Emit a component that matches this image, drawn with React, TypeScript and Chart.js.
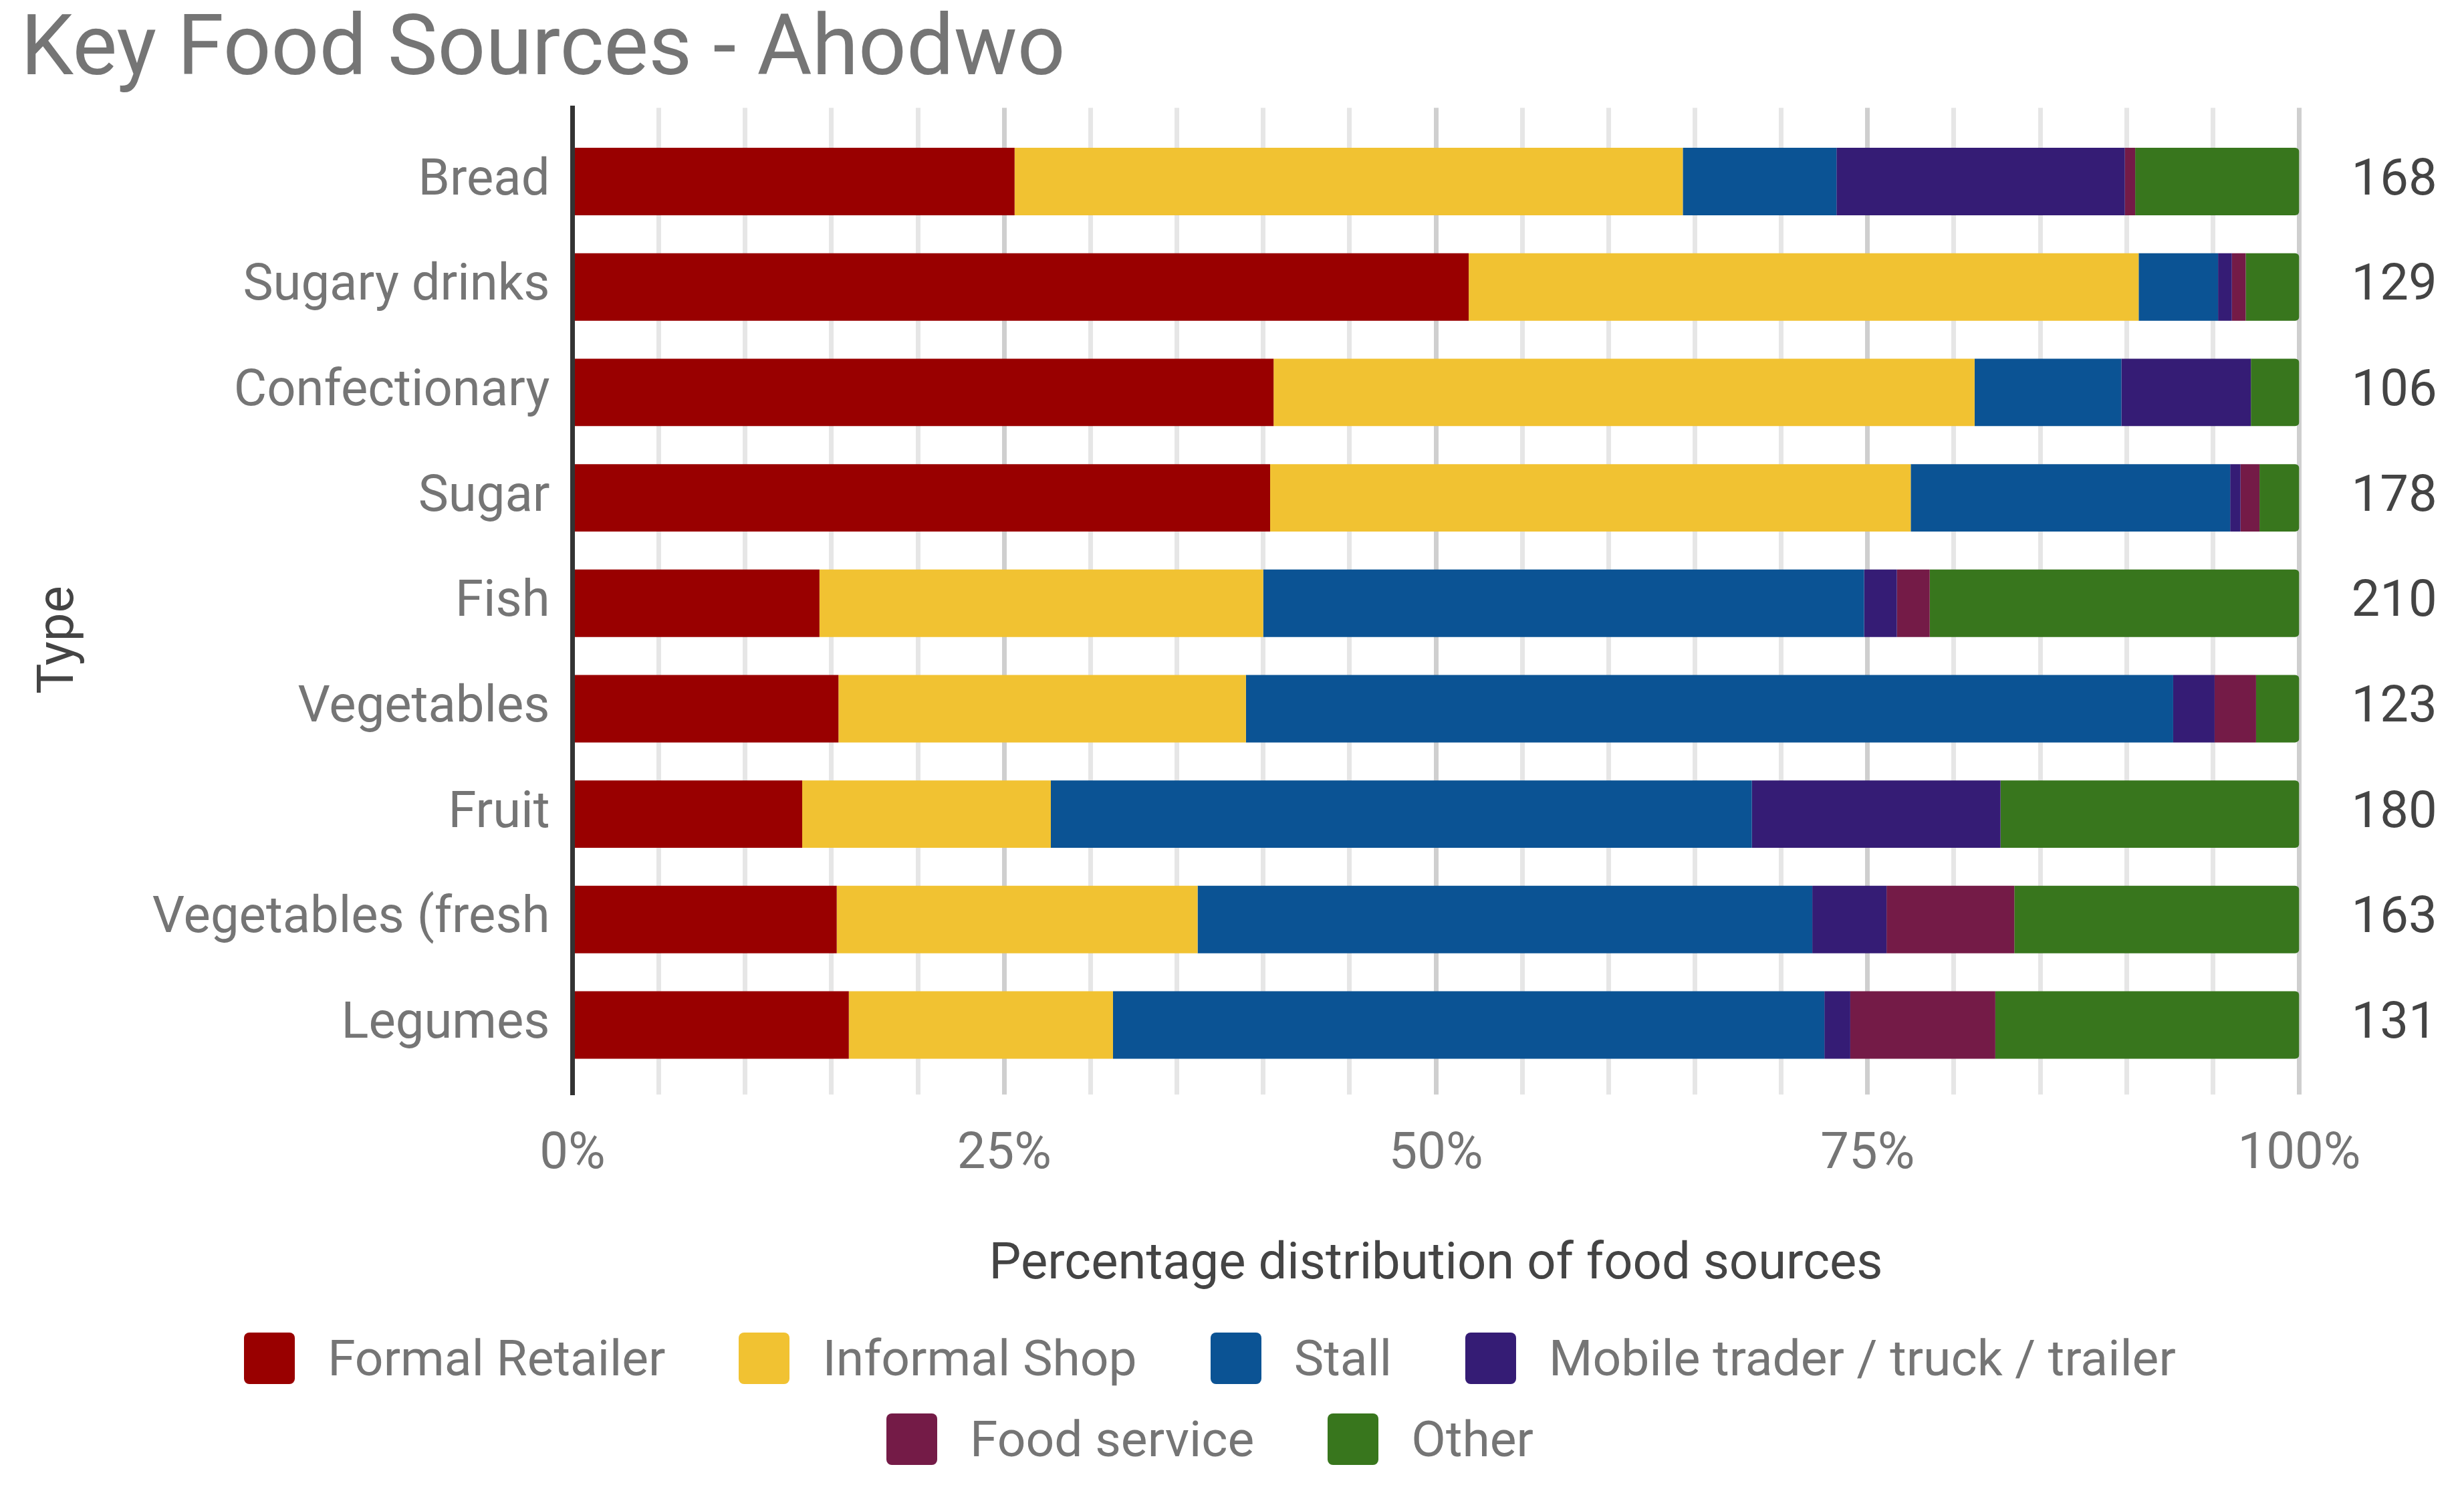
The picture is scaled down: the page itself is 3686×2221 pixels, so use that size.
import React, { useEffect, useRef } from "react";
import { Chart, registerables } from "chart.js";

Chart.register(...registerables);

const categories = [
  "Bread",
  "Sugary drinks",
  "Confectionary",
  "Sugar",
  "Fish",
  "Vegetables",
  "Fruit",
  "Vegetables (fresh",
  "Legumes",
];

const sampleSizes = ["168", "129", "106", "178", "210", "123", "180", "163", "131"];

const seriesNames = [
  "Formal Retailer",
  "Informal Shop",
  "Stall",
  "Mobile trader / truck / trailer",
  "Food service",
  "Other",
];

const seriesColors = ["#990000", "#f1c232", "#0b5394", "#351c75", "#741b47", "#38761d"];

const formalRetailer = [25.6, 51.9, 40.6, 40.4, 14.3, 15.4, 13.3, 15.3, 16.0];
const informalShop = [38.7, 38.8, 40.6, 37.1, 25.7, 23.6, 14.4, 20.9, 15.3];
const stall = [8.9, 4.6, 8.5, 18.5, 34.8, 53.7, 40.6, 35.6, 41.2];
const mobileTrader = [16.7, 0.8, 7.5, 0.6, 1.9, 2.4, 14.4, 4.3, 1.5];
const foodService = [0.6, 0.8, 0.0, 1.1, 1.9, 2.4, 0.0, 7.4, 8.4];
const other = [9.5, 3.1, 2.8, 2.3, 21.4, 2.5, 17.3, 16.5, 17.6];

const seriesValues = [formalRetailer, informalShop, stall, mobileTrader, foodService, other];

const xTickValues = [0, 25, 50, 75, 100];

const FONT = "Roboto";
const GREY = "#757575";
const DARK = "#444444";

const typeTitlePlugin = {
  id: "typeTitle",
  afterDraw(chart: any) {
    const ctx = chart.ctx;
    ctx.save();
    ctx.font = `76px ${FONT}`;
    ctx.fillStyle = DARK;
    ctx.textAlign = "center";
    ctx.textBaseline = "alphabetic";
    ctx.translate(109, 957);
    ctx.rotate(-Math.PI / 2);
    ctx.fillText("Type", 0, 0);
    ctx.restore();
  },
};

export default function App() {
  const canvasRef = useRef<HTMLCanvasElement | null>(null);

  useEffect(() => {
    if (!canvasRef.current) return;
    const indexTicks = (axis: any) => {
      axis.ticks = categories.map((_, i) => ({ value: i }));
    };
    const chart = new Chart(canvasRef.current, {
      type: "bar",
      data: {
        datasets: seriesNames.map((name, s) => ({
          label: name,
          data: categories.map((_, i) => ({ x: seriesValues[s][i], y: i })),
          backgroundColor: seriesColors[s],
          borderWidth: 0,
          borderRadius: 6,
          barPercentage: 0.64,
          categoryPercentage: 1,
          xAxisID: "x",
          yAxisID: "y",
        })),
      },
      plugins: [typeTitlePlugin],
      options: {
        indexAxis: "y",
        animation: false,
        responsive: false,
        devicePixelRatio: 1,
        layout: { padding: { top: 4, left: 31, right: 0, bottom: 0 } },
        plugins: {
          legend: { display: false },
          tooltip: { enabled: false },
          title: {
            display: true,
            text: "Key Food Sources - Ahodwo",
            align: "start",
            color: GREY,
            font: { family: FONT, size: 126, weight: "normal", lineHeight: 1.2 },
            padding: { top: 0, bottom: 6 },
          },
        },
        scales: {
          x: {
            type: "linear",
            position: "bottom",
            min: 0,
            max: 100,
            stacked: true,
            offset: false,
            ticks: {
              stepSize: 5,
              autoSkip: false,
              maxRotation: 0,
              padding: 45,
              color: GREY,
              font: { family: FONT, size: 76 },
              callback: (v: any) => (xTickValues.includes(Number(v)) ? `${v}%` : ""),
            },
            grid: {
              offset: false,
              drawTicks: false,
              lineWidth: 7,
              color: (ctx: any) =>
                ctx.tick && xTickValues.includes(ctx.tick.value) ? "#cfcfcf" : "#e6e6e6",
            },
            border: { display: false },
            title: {
              display: true,
              text: "Percentage distribution of food sources",
              color: DARK,
              font: { family: FONT, size: 76 },
              padding: { top: 0, bottom: 282 },
            },
            afterFit: (s: any) => {
              s.height = 584;
            },
          },
          y: {
            type: "linear",
            position: "left",
            min: -0.7,
            max: 8.66,
            reverse: true,
            stacked: true,
            offset: false,
            afterBuildTicks: indexTicks,
            ticks: {
              autoSkip: false,
              padding: 34,
              color: GREY,
              font: { family: FONT, size: 76 },
              callback: (v: any) => categories[v] ?? "",
            },
            grid: { display: true, offset: false, drawOnChartArea: false, drawTicks: false },
            border: { display: true, color: "#333333", width: 7, z: 1 },
            afterFit: (s: any) => {
              s.width = 825.5;
            },
          },
          y2: {
            type: "linear",
            position: "right",
            min: -0.7,
            max: 8.66,
            reverse: true,
            offset: false,
            afterBuildTicks: indexTicks,
            ticks: {
              autoSkip: false,
              padding: 78,
              color: DARK,
              font: { family: FONT, size: 76 },
              callback: (v: any) => sampleSizes[v] ?? "",
            },
            grid: { display: true, offset: false, drawOnChartArea: false, drawTicks: false },
            border: { display: false },
            afterFit: (s: any) => {
              s.width = 246.5;
            },
          },
        },
      } as any,
    });
    return () => chart.destroy();
  }, []);

  return (
    <div style={{ position: "relative", width: 3686, height: 2221, background: "#ffffff", overflow: "hidden" }}>
      <style>{"body{margin:0;overflow:hidden;}"}</style>
      <canvas
        ref={canvasRef}
        width={3686}
        height={2221}
        style={{ position: "absolute", left: 0, top: 0, width: 3686, height: 2221 }}
      />
      <div
        style={{
          position: "absolute",
          left: 210,
          top: 1993,
          width: 3200,
          display: "flex",
          flexWrap: "wrap",
          justifyContent: "center",
          columnGap: 110,
          rowGap: 44,
          fontFamily: FONT,
          fontSize: 75,
          color: GREY,
        }}
      >
        {seriesNames.map((name, i) => (
          <div key={name} style={{ display: "flex", alignItems: "center", height: 77 }}>
            <span
              style={{
                display: "inline-block",
                width: 76,
                height: 77,
                background: seriesColors[i],
                borderRadius: 8,
                marginRight: 49,
                flex: "none",
              }}
            />
            <span style={{ lineHeight: "77px", whiteSpace: "nowrap" }}>{name}</span>
          </div>
        ))}
      </div>
    </div>
  );
}
